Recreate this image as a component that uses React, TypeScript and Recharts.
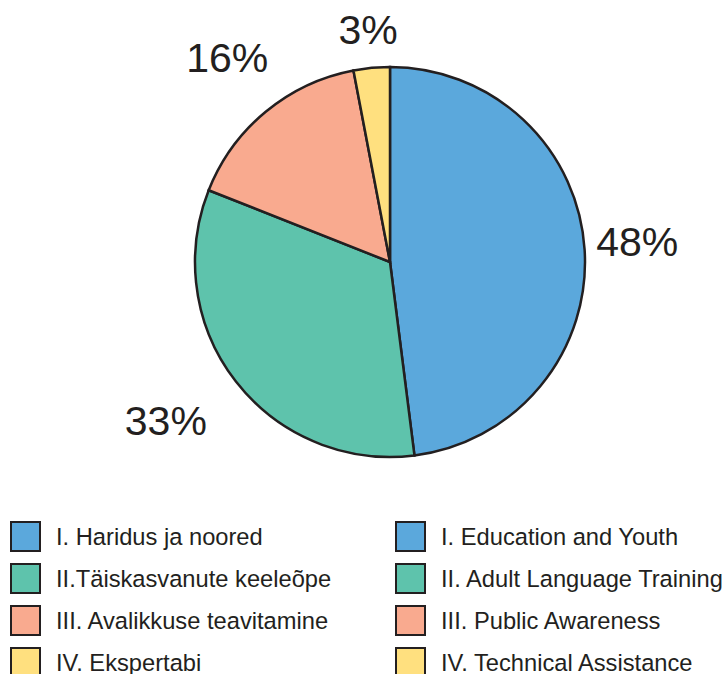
import { PieChart, Pie, Cell, Legend } from "recharts"

const SHARES = [48, 33, 16, 3]
const NAMES_ET = [
  "I. Haridus ja noored",
  "II.Täiskasvanute keeleõpe",
  "III. Avalikkuse teavitamine",
  "IV. Ekspertabi",
]
const NAMES_EN = [
  "I. Education and Youth",
  "II. Adult Language Training",
  "III. Public Awareness",
  "IV. Technical Assistance",
]
const COLORS = ["#5BA8DC", "#5EC3AC", "#F9AA8F", "#FFE07F"]

// how far each % label sits outside the rim, and a small angular nudge
const LABEL_PUSH = [53, 80, 66, 38]
const LABEL_TURN = [1, -2.4, -1, 0]

const INK = "#231F20"
const FONT = "'Liberation Sans', Arial, sans-serif"
const RAD = Math.PI / 180

const data = SHARES.map((v, i) => ({ name: NAMES_EN[i], value: v }))

const renderLabel = (props: any) => {
  const { cx, cy, midAngle, outerRadius, index, value } = props
  const a = (midAngle + LABEL_TURN[index]) * RAD
  const r = outerRadius + LABEL_PUSH[index]
  const x = cx + r * Math.cos(-a)
  const y = cy + r * Math.sin(-a)
  return (
    <text
      key={`lbl-${index}`}
      x={x}
      y={y}
      textAnchor="middle"
      dominantBaseline="central"
      fontSize={41}
      fontFamily={FONT}
      fill={INK}
    >
      {`${value}%`}
    </text>
  )
}

function Swatch({ color }: { color: string }) {
  return (
    <span
      style={{
        display: "inline-block",
        width: 27,
        height: 27,
        background: color,
        border: `2px solid ${INK}`,
        marginRight: 15,
        flexShrink: 0,
      }}
    />
  )
}

function TwoColumnLegend() {
  return (
    <div style={{ position: "relative", width: 725, fontFamily: FONT, fontSize: 23.7, color: INK }}>
      {SHARES.map((_, i) => (
        <div key={i} style={{ display: "flex", height: 42, alignItems: "center" }}>
          <div style={{ display: "flex", alignItems: "center", width: 385, paddingLeft: 10 }}>
            <Swatch color={COLORS[i]} />
            <span style={{ whiteSpace: "nowrap", position: "relative", top: 1 }}>{NAMES_ET[i]}</span>
          </div>
          <div style={{ display: "flex", alignItems: "center" }}>
            <Swatch color={COLORS[i]} />
            <span style={{ whiteSpace: "nowrap", position: "relative", top: 1 }}>{NAMES_EN[i]}</span>
          </div>
        </div>
      ))}
    </div>
  )
}

export default function App() {
  return (
    <div style={{ position: "absolute", left: 0, top: 0, width: 725, height: 674, overflow: "hidden", background: "#fff" }}>
      <PieChart width={725} height={674} margin={{ top: 0, right: 0, bottom: 0, left: 0 }}>
        <Pie
          data={data}
          dataKey="value"
          cx={390}
          cy={262}
          outerRadius={195}
          startAngle={90}
          endAngle={-270}
          stroke={INK}
          strokeWidth={2.5}
          label={renderLabel}
          labelLine={false}
          isAnimationActive={false}
        >
          {data.map((d, i) => (
            <Cell key={d.name} fill={COLORS[i]} />
          ))}
        </Pie>
        <Legend
          content={() => <TwoColumnLegend />}
          wrapperStyle={{ position: "absolute", left: 0, top: 515, width: 725 }}
        />
      </PieChart>
    </div>
  )
}
